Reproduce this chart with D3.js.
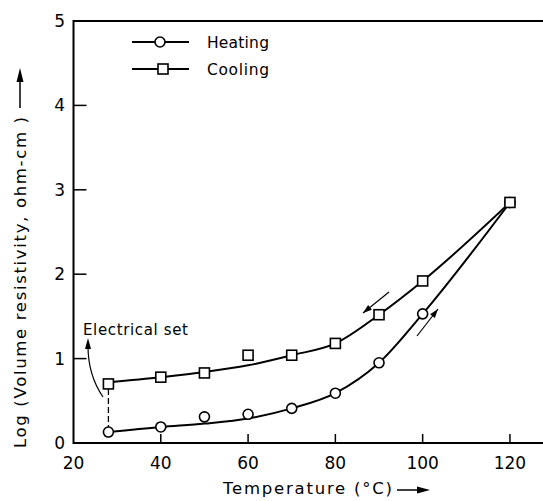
<!DOCTYPE html>
<html>
<head>
<meta charset="utf-8">
<script src="https://cdn.jsdelivr.net/npm/d3@7/dist/d3.min.js"></script>
<style>
  body { margin: 0; background: #fff; }
  text { font-family: "DejaVu Sans", sans-serif; fill: #000; }
</style>
</head>
<body>
<div id="chart"></div>
<script>
// temperatures (°C) where readings were taken
const temps   = [28, 40, 50, 60, 70, 80, 90, 100, 120];
const heating = [0.13, 0.19, 0.31, 0.34, 0.41, 0.59, 0.95, 1.53, 2.85];
const cooling = [0.70, 0.78, 0.83, 1.04, 1.04, 1.18, 1.52, 1.92, 2.85];
// smoothed curves drawn through the points
const heatCurve = [0.13, 0.19, 0.23, 0.29, 0.41, 0.59, 0.95, 1.53, 2.85];
const coolCurve = [0.72, 0.78, 0.84, 0.92, 1.04, 1.18, 1.52, 1.92, 2.85];
const xTicks = [20, 40, 60, 80, 100, 120];
const yTicks = [0, 1, 2, 3, 4, 5];

const width = 543, height = 501;

const svg = d3.select('#chart').append('svg')
  .attr('width', width)
  .attr('height', height);

const x = d3.scaleLinear().domain([20, 130]).range([73.5, 553.6]);
const y = d3.scaleLinear().domain([0, 5]).range([443, 21]);

// frame: left axis, top line, bottom axis
svg.append('path')
  .attr('d', `M${width},${y(5)}H${x(20)}V${y(0)}H${width}`)
  .attr('fill', 'none')
  .attr('stroke', '#000')
  .attr('stroke-width', 2);

// ticks point inward
svg.selectAll('.ytick').data(yTicks.filter(d => d > 0 && d < 5)).enter()
  .append('line')
  .attr('x1', x(20)).attr('x2', x(20) + 13)
  .attr('y1', d => y(d)).attr('y2', d => y(d))
  .attr('stroke', '#000').attr('stroke-width', 1.5);

svg.selectAll('.xtick').data(xTicks.filter(d => d > 20)).enter()
  .append('line')
  .attr('x1', d => x(d)).attr('x2', d => x(d))
  .attr('y1', y(0)).attr('y2', y(0) - 9)
  .attr('stroke', '#000').attr('stroke-width', 1.5);

svg.selectAll('.ylab').data(yTicks).enter()
  .append('text')
  .attr('x', 65)
  .attr('y', d => y(d) + 6)
  .attr('text-anchor', 'end')
  .style('font-size', '17px')
  .text(d => d);

svg.selectAll('.xlab').data(xTicks).enter()
  .append('text')
  .attr('x', d => x(d))
  .attr('y', 469)
  .attr('text-anchor', 'middle')
  .style('font-size', '17px')
  .text(d => d);

// axis titles
svg.append('text')
  .attr('x', 223).attr('y', 494)
  .attr('textLength', 169)
  .attr('lengthAdjust', 'spacing')
  .style('font-size', '16.5px')
  .text('Temperature (°C)');
svg.append('line')
  .attr('x1', 397).attr('x2', 422).attr('y1', 490).attr('y2', 490)
  .attr('stroke', '#000').attr('stroke-width', 1.5);
svg.append('path')
  .attr('d', 'M430,490 L417,486.5 L417,493.5 Z')
  .attr('fill', '#000');

svg.append('text')
  .attr('transform', 'translate(26,448) rotate(-90)')
  .attr('textLength', 331)
  .attr('lengthAdjust', 'spacing')
  .style('font-size', '16.5px')
  .text('Log (Volume resistivity, ohm-cm )');
svg.append('line')
  .attr('x1', 20).attr('x2', 20).attr('y1', 108).attr('y2', 76)
  .attr('stroke', '#000').attr('stroke-width', 1.5);
svg.append('path')
  .attr('d', 'M20,68 L16.5,82 L23.5,82 Z')
  .attr('fill', '#000');

// curves
const line = d3.line()
  .x(d => x(d[0]))
  .y(d => y(d[1]))
  .curve(d3.curveMonotoneX);

svg.append('path')
  .datum(temps.map((t, i) => [t, heatCurve[i]]))
  .attr('d', line)
  .attr('fill', 'none')
  .attr('stroke', '#000')
  .attr('stroke-width', 2);

svg.append('path')
  .datum(temps.map((t, i) => [t, coolCurve[i]]))
  .attr('d', line)
  .attr('fill', 'none')
  .attr('stroke', '#000')
  .attr('stroke-width', 2);

// dashed link at the set point
svg.append('line')
  .attr('x1', x(28)).attr('x2', x(28))
  .attr('y1', y(cooling[0]) + 5).attr('y2', y(heating[0]) - 5)
  .attr('stroke', '#000')
  .attr('stroke-width', 1.3)
  .attr('stroke-dasharray', '6,3');

// markers
svg.selectAll('.heat').data(temps).enter()
  .append('circle')
  .attr('cx', d => x(d))
  .attr('cy', (d, i) => y(heating[i]))
  .attr('r', 5)
  .attr('fill', '#fff')
  .attr('stroke', '#000')
  .attr('stroke-width', 1.6);

svg.selectAll('.cool').data(temps).enter()
  .append('rect')
  .attr('x', d => x(d) - 5)
  .attr('y', (d, i) => y(cooling[i]) - 5)
  .attr('width', 10).attr('height', 10)
  .attr('fill', '#fff')
  .attr('stroke', '#000')
  .attr('stroke-width', 1.6);

// direction arrows
function arrow(x1, y1, x2, y2) {
  svg.append('line')
    .attr('x1', x1).attr('y1', y1).attr('x2', x2).attr('y2', y2)
    .attr('stroke', '#000').attr('stroke-width', 1.2);
  const a = Math.atan2(y2 - y1, x2 - x1), L = 9, W = 3;
  const bx = x2 - L * Math.cos(a), by = y2 - L * Math.sin(a);
  svg.append('path')
    .attr('d', `M${x2},${y2}L${bx - W * Math.sin(a)},${by + W * Math.cos(a)}L${bx + W * Math.sin(a)},${by - W * Math.cos(a)}Z`)
    .attr('fill', '#000');
}
arrow(389, 292, 363, 313);
arrow(417, 336, 438, 309);

// Electrical set note
svg.append('text')
  .attr('x', 83).attr('y', 335)
  .attr('textLength', 105)
  .attr('lengthAdjust', 'spacing')
  .style('font-size', '15px')
  .text('Electrical set');
svg.append('path')
  .attr('d', 'M103,397 Q88,375 88,346')
  .attr('fill', 'none')
  .attr('stroke', '#000')
  .attr('stroke-width', 1.2);
svg.append('path')
  .attr('d', 'M88,338 L85,349 L91,349 Z')
  .attr('fill', '#000');

// legend
const legend = [
  { name: 'Heating', y: 42, shape: 'circle' },
  { name: 'Cooling', y: 69, shape: 'square' }
];
legend.forEach(l => {
  svg.append('line')
    .attr('x1', 132).attr('x2', 189).attr('y1', l.y).attr('y2', l.y)
    .attr('stroke', '#000').attr('stroke-width', 1.8);
  if (l.shape === 'circle') {
    svg.append('circle').attr('cx', 160).attr('cy', l.y).attr('r', 5)
      .attr('fill', '#fff').attr('stroke', '#000').attr('stroke-width', 1.6);
  } else {
    svg.append('rect').attr('x', 158).attr('y', l.y - 5).attr('width', 10).attr('height', 10)
      .attr('fill', '#fff').attr('stroke', '#000').attr('stroke-width', 1.6);
  }
  svg.append('text')
    .attr('x', 207).attr('y', l.y + 6)
    .attr('textLength', 62)
    .attr('lengthAdjust', 'spacing')
    .style('font-size', '15.5px')
    .text(l.name);
});
</script>
</body>
</html>
